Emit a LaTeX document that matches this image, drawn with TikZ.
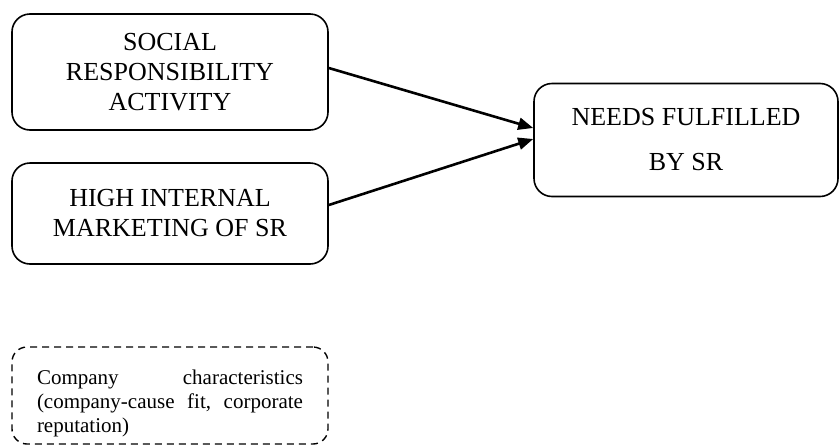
\documentclass[tikz,border=0pt]{standalone}
\usepackage{fontspec}
\setmainfont{Liberation Serif}
\usetikzlibrary{arrows.meta}

\tikzset{
  factor/.style={draw, line width=1.6pt, rounded corners=18pt, align=center,
    inner sep=0pt, font=\fontsize{26}{30}\selectfont},
  outcome/.style={factor, font=\fontsize{26}{45}\selectfont},
  moderator/.style={draw, dashed, dash pattern=on 7pt off 5pt, line width=1.4pt,
    rounded corners=15pt, inner sep=0pt},
  link/.style={line width=2.6pt, -{Triangle[length=15pt,width=12pt]}}
}

% one justified line of fixed width
\newcommand{\fullline}[1]{\hbox to 266pt{#1}}

\begin{document}
\begin{tikzpicture}[x=1pt,y=-1pt]
  \useasboundingbox (0,0) rectangle (840,445);

  % antecedent boxes
  \node[factor, minimum width=316pt, minimum height=116pt] (sra) at (170,72)
    {SOCIAL\\RESPONSIBILITY\\ACTIVITY};
  \node[factor, minimum width=316pt, minimum height=101pt] (him) at (170,213.5)
    {HIGH INTERNAL\\MARKETING OF SR};

  % outcome box
  \node[outcome, minimum width=304pt, minimum height=113pt] (nfs) at (686,140)
    {NEEDS FULFILLED\\BY SR};

  % moderator box
  \node[moderator, minimum width=316pt, minimum height=97pt] (cc) at (170,395.5)
    {\parbox{266pt}{\vspace*{16pt}\fontsize{21}{24}\selectfont
      \fullline{Company\hfill characteristics}
      \fullline{(company-cause\hfill fit,\hfill corporate}
      \fullline{reputation)\hfill}}};

  % connectors
  \draw[link] ([yshift=4pt]sra.east) -- ([yshift=12pt]nfs.west);
  \draw[link] ([yshift=8.5pt]him.east) -- ([yshift=1pt]nfs.west);
\end{tikzpicture}
\end{document}
